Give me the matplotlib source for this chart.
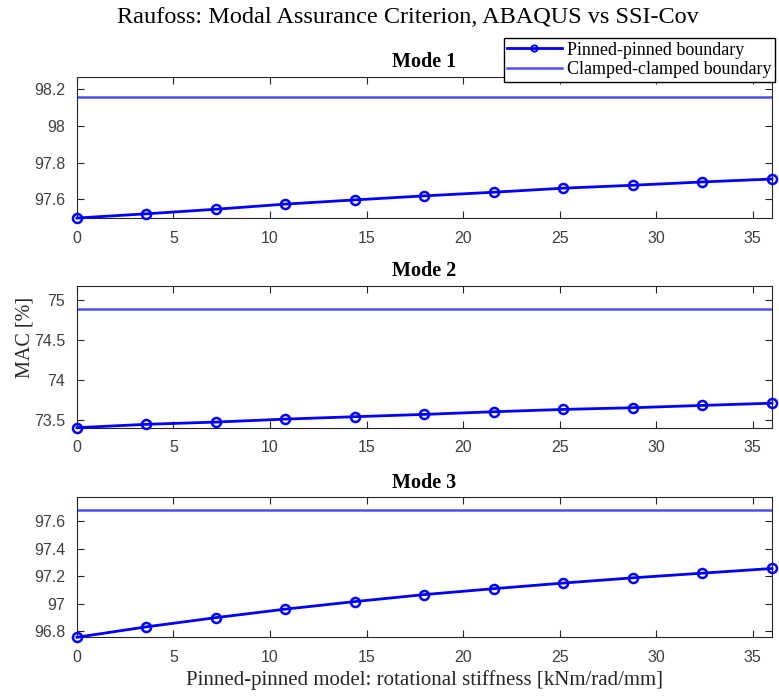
import numpy as np
import matplotlib.pyplot as plt

# rotational stiffness of the pinned-pinned model [kNm/rad/mm]
stiffness = [0, 3.6, 7.2, 10.8, 14.4, 18.0, 21.6, 25.2, 28.8, 32.4, 36.0]

# MAC [%] for the pinned-pinned model, per mode
mac_mode1 = [97.497, 97.520, 97.545, 97.573, 97.596, 97.618, 97.638, 97.660, 97.676, 97.694, 97.710]
mac_mode2 = [73.405, 73.447, 73.475, 73.512, 73.542, 73.571, 73.604, 73.633, 73.654, 73.683, 73.711]
mac_mode3 = [96.756, 96.832, 96.899, 96.961, 97.016, 97.067, 97.110, 97.151, 97.189, 97.223, 97.257]

# MAC [%] for the clamped-clamped model
mac_clamped = [98.16, 74.884, 97.68]

mode_titles = ['Mode 1', 'Mode 2', 'Mode 3']
ylims = [(97.497, 98.267), (73.405, 75.174), (96.756, 97.776)]
yticks = [[97.6, 97.8, 98.0, 98.2],
          [73.5, 74.0, 74.5, 75.0],
          [96.8, 97.0, 97.2, 97.4, 97.6]]
ytick_labels = [['97.6', '97.8', '98', '98.2'],
                ['73.5', '74', '74.5', '75'],
                ['96.8', '97', '97.2', '97.4', '97.6']]

serif = ['Liberation Serif', 'DejaVu Serif']
sans = ['Liberation Sans', 'DejaVu Sans']
tick_color = '#404040'

fig = plt.figure(figsize=(7.79, 6.97), dpi=100)

# axes boxes [left, bottom, width, height] in figure fractions
boxes = [[0.0988, 0.6872, 0.8922, 0.2023],
         [0.0988, 0.3864, 0.8922, 0.2033],
         [0.0988, 0.0857, 0.8922, 0.2009]]

series = [mac_mode1, mac_mode2, mac_mode3]
handles = None
for i in range(3):
    ax = fig.add_axes(boxes[i])
    hp, = ax.plot(stiffness, series[i], color='#0000ff', lw=2, marker='o',
                  markersize=6.5, markerfacecolor='none', markeredgewidth=1.8,
                  clip_on=False, zorder=3, label='Pinned-pinned boundary')
    hc = ax.axhline(mac_clamped[i], color='#4d4dff', lw=1.8,
                    label='Clamped-clamped boundary')
    if handles is None:
        handles = [hp, hc]
    ax.set_xlim(0, 36)
    ax.set_ylim(*ylims[i])
    ax.set_xticks(np.arange(0, 36, 5))
    ax.set_yticks(yticks[i])
    ax.set_yticklabels(ytick_labels[i])
    ax.tick_params(direction='in', top=True, right=True, length=5,
                   width=0.8, color='#262626', labelcolor=tick_color,
                   labelsize=11.5)
    ax.tick_params(axis='x', pad=9)
    ax.tick_params(axis='y', pad=8.5)
    for lab in ax.get_xticklabels() + ax.get_yticklabels():
        lab.set_family(sans)
    for sp in ax.spines.values():
        sp.set_color('#262626')
        sp.set_linewidth(0.8)
    ax.set_title(mode_titles[i], fontsize=14.5, fontweight='bold',
                 family=serif, pad=7)

fig.text(0.523, 0.975, 'Raufoss: Modal Assurance Criterion, ABAQUS vs SSI-Cov',
         ha='center', va='center', fontsize=17.5, family=serif)
fig.text(0.545, 0.025, 'Pinned-pinned model: rotational stiffness [kNm/rad/mm]',
         ha='center', va='center', fontsize=15, family=serif, color='#262626')
fig.text(0.0315, 0.516, 'MAC [%]', rotation=90, ha='center', va='center',
         fontsize=14.5, family=serif, color='#262626')

leg = fig.legend(handles, [h.get_label() for h in handles],
                 loc='upper right', bbox_to_anchor=(0.995, 0.9455),
                 prop={'family': serif, 'size': 13}, frameon=True,
                 fancybox=False, edgecolor='black', framealpha=1,
                 handlelength=3.0, handletextpad=0.3, borderpad=0.2,
                 labelspacing=0.15, borderaxespad=0)
leg.get_frame().set_linewidth(1.0)
# small open circle in the legend, as in the original figure
leg.legend_handles[0].set_markersize(4.5)
leg.legend_handles[0].set_markeredgewidth(1.4)

fig.savefig('out.png', dpi=100)
